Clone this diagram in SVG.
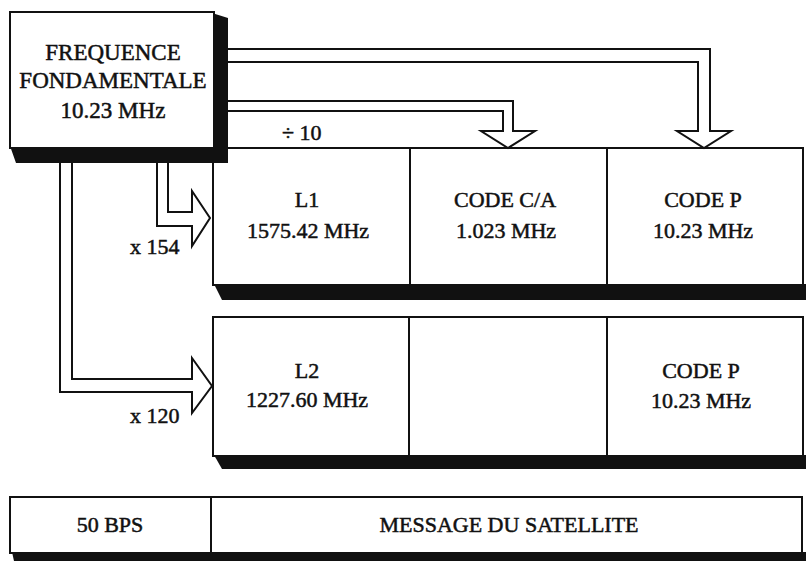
<svg xmlns="http://www.w3.org/2000/svg" width="806" height="561" viewBox="0 0 806 561">
<defs>
<style>
.bx{fill:#fff;stroke:#111;stroke-width:2}
.ln{fill:none;stroke:#111;stroke-width:2}
.sh{fill:#111}
.ar{fill:#fff;stroke:#111;stroke-width:2;stroke-linejoin:miter}
text{font-family:"Liberation Serif","Times New Roman",serif;font-size:22px;fill:#111;stroke:#111;stroke-width:0.5;text-anchor:middle}
.lt{text-anchor:start}
</style>
</defs>
<rect width="806" height="561" fill="#fff"/>

<g id="row1">
<polygon class="sh" points="214,284 806,284 806,300 222,300"/>
<rect class="bx" x="213" y="148" width="590" height="137"/>
<line class="ln" x1="410" y1="148" x2="410" y2="285"/>
<line class="ln" x1="607" y1="148" x2="607" y2="285"/>
</g>
<g id="L1">
<text x="307" y="207">L1</text>
<text x="308" y="238">1575.42 MHz</text>
</g>
<g id="codeCA">
<text x="505" y="207">CODE C/A</text>
<text x="506" y="238">1.023 MHz</text>
</g>
<g id="codeP1">
<text x="703" y="207">CODE P</text>
<text x="703" y="238">10.23 MHz</text>
</g>

<g id="row2">
<polygon class="sh" points="214,455 806,455 806,469 222,469"/>
<rect class="bx" x="213" y="317" width="590" height="139"/>
<line class="ln" x1="409" y1="317" x2="409" y2="456"/>
<line class="ln" x1="607" y1="317" x2="607" y2="456"/>
</g>
<g id="L2">
<text x="307" y="378">L2</text>
<text x="307" y="407">1227.60 MHz</text>
</g>
<g id="empty2"/>
<g id="codeP2">
<text x="701" y="378">CODE P</text>
<text x="701" y="408">10.23 MHz</text>
</g>

<g id="row3">
<polygon class="sh" points="12,552 806,552 806,561 14,561"/>
<rect class="bx" x="10" y="497" width="792" height="56"/>
<line class="ln" x1="211" y1="497" x2="211" y2="553"/>
</g>
<g id="bps">
<text x="110" y="532">50 BPS</text>
</g>
<g id="message">
<text x="509" y="532">MESSAGE DU SATELLITE</text>
</g>

<g id="fondamentale">
<polygon class="sh" points="212,13 228,18 228,163 16,163 10,146 212,146"/>
<rect class="bx" x="10" y="12" width="204" height="136"/>
<text x="113" y="60" style="font-size:23px">FREQUENCE</text>
<text x="113" y="88" style="font-size:23px">FONDAMENTALE</text>
<text x="113" y="118" style="font-size:23px">10.23 MHz</text>
</g>

<g id="connectors">
<path class="ar" d="M228,49 L710,49 L710,131 L731,131 L704,148 L677,131 L698,131 L698,62 L228,62"/>
<path class="ar" d="M228,101 L513,101 L513,131 L535,131 L508,148 L481,131 L503,131 L503,111 L228,111"/>
<path class="ar" d="M157,163 L157,226 L192,226 L192,246 L210,218 L192,191 L192,212 L168,212 L168,163"/>
<path class="ar" d="M60,163 L60,392 L192,392 L192,413 L212,386 L192,358 L192,379 L72,379 L72,163"/>
<text class="lt" x="282" y="140">÷ 10</text>
<text class="lt" x="130" y="254">x 154</text>
<text class="lt" x="130" y="423">x 120</text>
</g>
</svg>
